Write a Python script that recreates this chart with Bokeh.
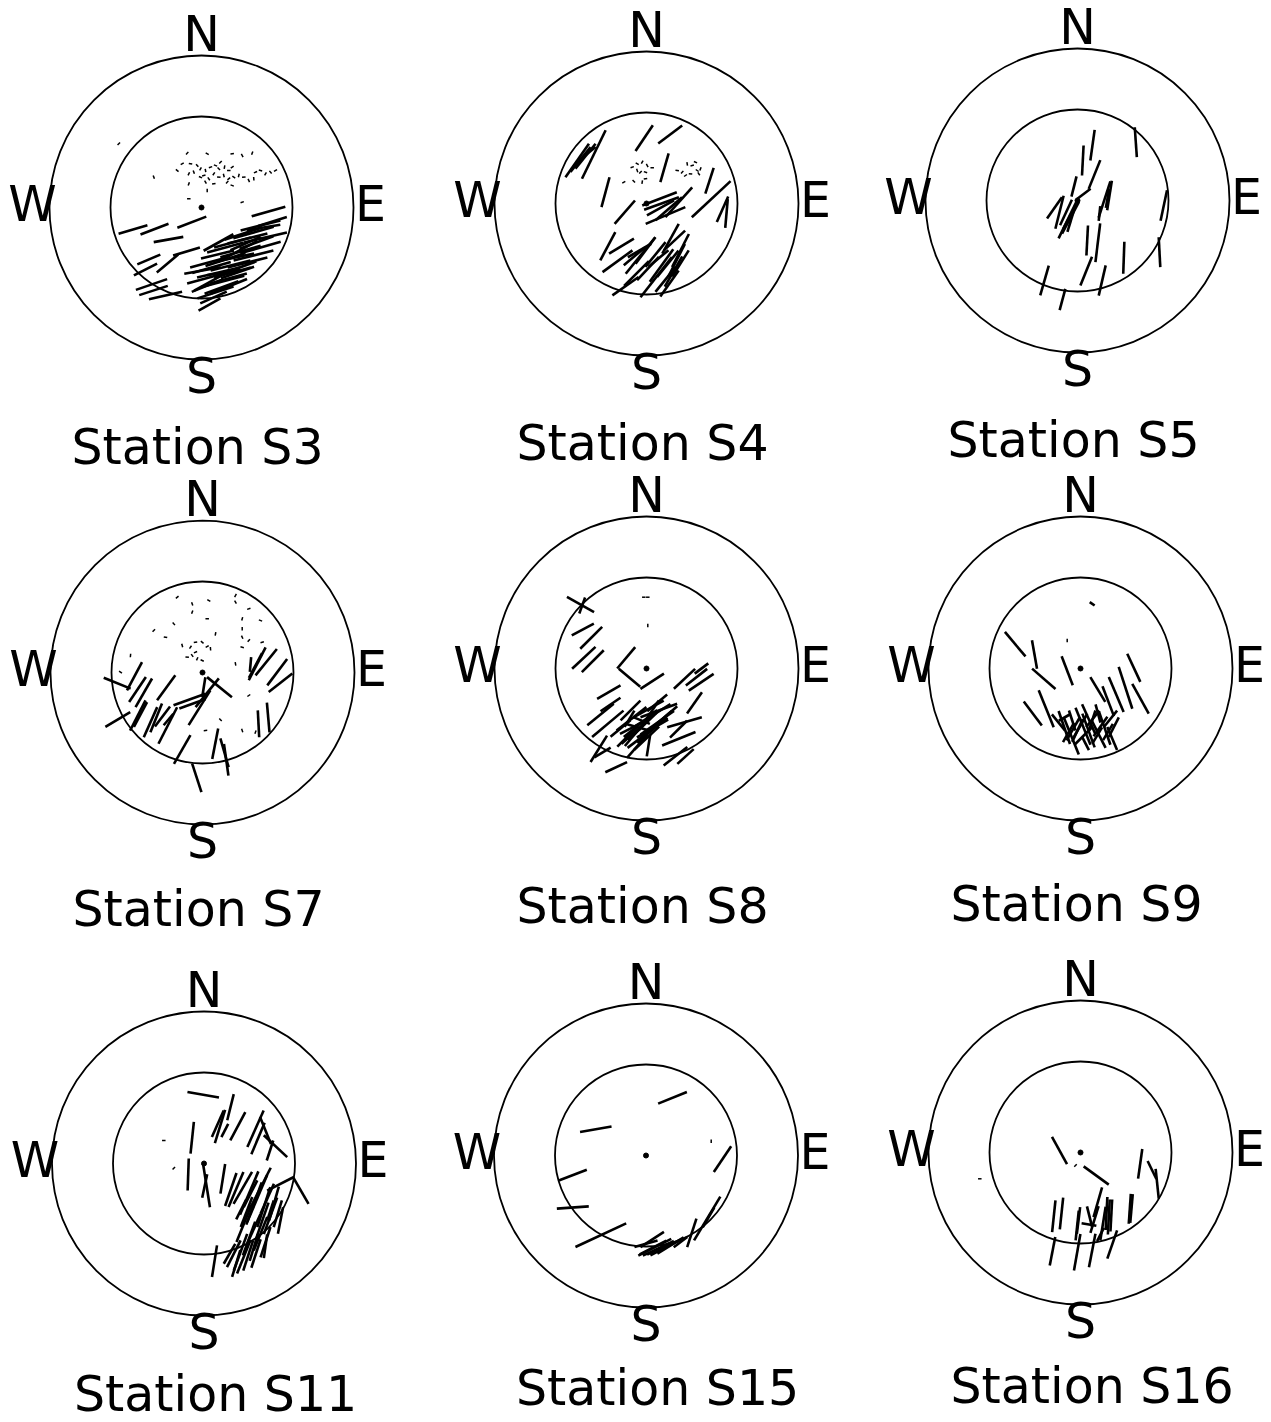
import numpy as np
from bokeh.plotting import figure
from bokeh.models import Range1d
from bokeh.core.properties import value
from bokeh.embed import file_html
from bokeh.resources import INLINE

# Polar projections of shear-wave splitting measurements at each station.
# Each measurement: (east, north) position of the arrival in the projection,
# fast polarisation azimuth (deg from N) and delay (drawn as segment length).
# The inner circle is the shear-wave window, the outer circle the horizon.
R_WINDOW = 91
R_RING = 152
SPECK_LEN = 3.5

STATION_NAMES = ["S3", "S4", "S5", "S7", "S8", "S9", "S11", "S15", "S16"]

# (east, north, fast azimuth, delay)
S3_SPLIT = [
    (-68.5, -22, 74, 30), (-47, -21.7, 69, 30), (-9.7, -14.7, 69, 31), (-33, -32, 80, 30),
    (-52.7, -52, 67, 25), (-56, -62, 63, 26), (-50, -77, 71, 33), (-36, -88, 77, 34),
    (-34, -56, 50, 28), (-15, -44, 73, 28), (-48, -83, 72, 30), (8, -97, 61, 25),
    (67, -4, 74, 35), (71, -14, 73, 30), (59, -18, 76, 41), (52, -25, 74, 42),
    (46, -31, 76, 41), (64, -30, 77, 44), (31, -35, 75, 38), (24, -40, 75, 38),
    (39, -44, 74, 42), (52, -48, 76, 41), (16, -47, 76, 34), (7, -55, 75, 38),
    (29, -58, 76, 41), (46, -55, 76, 41), (1, -63, 80, 37), (17, -65, 77, 44),
    (31, -65, 75, 38), (4, -71, 75, 38), (21, -74, 75, 45), (27, -79, 68, 40),
    (14, -85, 72, 38), (12, -90, 66, 29), (59, -40, 74, 42), (17, -35, 61, 34),
    (36, -44, 62, 45), (11, -73, 61, 42), (22, -65, 81, 34), (27, -71, 75, 38),
    (36, -65, 71, 35), (62, -20, 81, 34), (44, -36, 66, 33),
    (10, -60, 74, 40), (24, -52, 72, 42), (38, -60, 70, 36), (20, -80, 70, 36),
    (34, -50, 78, 38), (42, -26, 72, 40), (55, -35, 70, 36), (6, -78, 68, 34),
]
S4_SPLIT = [
    (-69.3, 43, 35, 41), (-66, 44, 39, 32), (-61, 47.3, 39, 32), (-52.7, 49, 26, 54),
    (-59, 50, 51, 21), (-2.3, 65.3, 34, 31), (23.7, 69, 53, 30), (18, 35.7, 16, 30),
    (-41, 11.3, 15, 31), (-21.7, -8.7, 41, 31), (63, 22.7, 18, 27), (64.7, 4.3, 47, 53),
    (76, -5.7, 24, 28), (80, -10, 5, 29), (13, 4.7, 69, 37), (15, 0, 70, 37),
    (14, -4.3, 61, 31), (22.3, -5.3, 49, 35), (32.3, 1.3, 42, 40), (19, -12, 67, 43),
    (-38.7, -42.7, 28, 32), (-25, -42.7, 59, 29), (-29, -57.7, 54, 37), (-12, -52.7, 50, 28),
    (-6, -52, 39, 47), (-21, -82.7, 55, 32), (1.5, -65, 43, 32), (9.7, -73.7, 38, 51),
    (21.3, -60.3, 39, 34), (19, -76, 39, 32), (24, -35.3, 29, 34), (28, -37, 47, 29),
    (34, -47, 27, 37), (30, -57, 27, 37), (12, -55, 50, 26), (23, -80, 35, 32),
    (34, -60, 32, 31), (-1, -47, 37, 33), (9, -51, 39, 32), (-7, -47, 60, 27),
    (15, -62, 36, 40), (27, -68, 30, 35), (-10, -70, 45, 35),
]
S5_SPLIT = [
    (15, 55.3, 8, 31), (5.3, 40, 3, 30), (17, 26, 22, 31), (58.3, 58.3, 176, 30),
    (-3.5, 14, 14, 21), (6.3, 6.7, 53, 17), (-23, -7.3, 35, 26), (-18, -11.7, 14, 34),
    (-9.7, -19, 26, 42), (-7, -17.3, 28, 36), (-7.7, -16, 28, 28), (-11.5, -12, 25, 28),
    (-6, -18, 17, 28), (32, 5, 9, 30), (30, 2, 10, 19), (22, -13, 6, 15),
    (27, 1, 18, 38), (9.7, -40, 3, 30), (20.3, -42.3, 7, 39), (8.7, -70.7, 22, 31),
    (24.7, -80, 13, 31), (46.3, -57.3, 2, 32), (82, -51.7, 177, 30), (86.3, -5, 12, 31),
    (-33, -80, 16, 31), (-15, -99, 15, 22),
]
S7_SPLIT = [
    (-85.3, -10.7, 112, 29), (-68, -3.7, 28, 32), (-65, -17, 34, 30), (-58.7, -20.3, 30, 33),
    (-64.7, -43, 27, 34), (-62, -42, 28, 28), (-84.7, -47, 59, 29), (-52, -49.7, 24, 33),
    (-36.3, -15.3, 36, 31), (-46.3, -45.3, 22, 31), (-34.7, -53, 27, 41), (-34, -47, 40, 15),
    (-13, -27, 70, 34), (-10, -31.3, 70, 28), (-3, -35.3, 32, 41), (1.3, -14.7, 9, 20),
    (17, -14.7, 129, 32), (4.7, -20.3, 39, 37), (-20.3, -77, 30, 33), (12.7, -71.3, 11, 31),
    (22, -80.3, 164, 30), (23.7, -87.3, 172, 32), (-5.7, -105.3, 162, 30), (56, -51.3, 177, 27),
    (65.7, -45, 175, 30), (54.7, 8.7, 27, 37), (63.7, 10.3, 39, 34), (74.7, 0.3, 37, 33),
    (53, 7, 28, 28), (78, -10.3, 52, 30), (48, 8, 5, 15), (-40, -44, 37, 25),
]
S8_SPLIT = [
    (-66, 64, 119, 31), (-64.3, 63, 20, 17), (-63.7, 39, 62, 25), (-55.3, 30.7, 45, 31),
    (-62.7, 10.7, 47, 32), (-53.7, 7.3, 45, 31), (-20.3, 10.7, 40, 28), (-17, -9.3, 130, 28),
    (5.7, -12.7, 57, 28), (38, -10.3, 47, 29), (50, -8.7, 52, 27), (54.7, -13.7, 56, 30),
    (55, 0, 53, 17), (-37.7, -23.7, 60, 27), (-46, -46, 51, 34), (-36, -36, 56, 24),
    (-38.7, -55.3, 50, 41), (-16, -42, 45, 28), (-15, -50.3, 52, 38), (-6, -55, 51, 43),
    (-10, -62, 48, 40), (1, -64.3, 53, 50), (5.7, -47, 58, 43), (2.3, -40.3, 61, 34),
    (10.7, -54.3, 55, 41), (-9.3, -77.7, 41, 31), (0.2, -69.7, 47, 34), (2, -77, 9, 22),
    (-16.7, -60.3, 63, 22), (10.7, -34.3, 50, 26), (12.3, -42, 70, 39), (4, -63, 49, 35),
    (-17, -50.3, 31, 19), (-26, -60, 50, 26), (-19.3, -68.3, 45, 28), (19, -48, 49, 31),
    (2.3, -47, 34, 36), (-8, -59, 106, 24), (-5, -52, 112, 18), (38, -53.7, 74, 36),
    (48, -34.3, 35, 26), (32, -60.7, 45, 24), (32.3, -70.3, 68, 36), (29, -87.7, 52, 30),
    (39, -88, 48, 22), (-30.3, -98.7, 65, 24), (-44, -84, 59, 19), (-47.7, -80.3, 32, 31),
    (-4, -58, 46, 40), (6, -60, 60, 36), (-12, -66, 40, 30), (14, -52, 50, 30),
]
S9_SPLIT = [
    (-65.3, 24.3, 140, 32), (-46, 14, 170, 29), (-36.7, -10.3, 131, 31), (-13.3, -2.3, 159, 31),
    (-47.7, -45, 143, 30), (-34.3, -40.3, 158, 40), (17.3, -21, 149, 29), (35.7, -26, 157, 38),
    (45, -19.3, 162, 44), (53.3, 0.7, 155, 31), (60, -30.3, 151, 34), (27.7, -32.7, 159, 32),
    (-16.2, -59, 161, 35), (-9.2, -67.5, 158, 40), (-8.3, -52, 162, 21), (2.5, -57.8, 158, 40),
    (8.3, -50.8, 156, 33), (12.3, -50.3, 39, 21), (18.3, -66, 153, 30), (24.2, -59.7, 161, 35),
    (30, -50.3, 39, 21), (33.3, -58.7, 27, 22), (27.5, -63.5, 31, 19), (-7.2, -60.2, 30, 27),
    (0, -57, 30, 27), (11.7, -52, 18, 21), (3.3, -67, 45, 24), (16.7, -67, 31, 19),
    (-16, -49, 60, 13), (5, -75, 153, 15), (31.7, -70, 157, 25), (-22, -54, 141, 21),
    (17.5, -45, 165, 19), (11.7, 64.7, 125, 6),
    (-12, -64, 30, 22), (20, -58, 35, 24), (8, -62, 160, 36), (-3, -62, 25, 25),
]
S11_SPLIT = [
    (-0.8, 68.7, 100, 32), (26.5, 56.3, 14, 27), (13.8, 39.7, 24, 29), (16, 37, 17, 35),
    (20.8, 33, 27, 15), (33.8, 37.3, 28, 32), (-11.8, 25.7, 6, 32), (51.5, 34.7, 24, 40),
    (54, 25, 23, 34), (71.5, 17.3, 133, 32), (66, 13, 18, 21), (61.5, 33, 158, 29),
    (-15.8, -11, 2, 32), (2.5, -22, 171, 44), (0.7, -22.5, 12, 24), (18.8, -15.3, 9, 30),
    (26.8, -26, 19, 35), (32, -26, 23, 38), (38.8, -24.3, 30, 37), (45.2, -29.5, 23, 47),
    (53.2, -35, 23, 51), (56.5, -24.3, 27, 45), (46.5, -30.3, 27, 30), (59.8, -43.7, 18, 42),
    (63.2, -35.3, 24, 33), (66.5, -52.3, 20, 39), (66.5, -47, 18, 21), (73.8, -50.3, 17, 28),
    (76.5, -57, 11, 27), (42.5, -48.5, 21, 32), (37.2, -46, 27, 22), (49.8, -65.5, 24, 33),
    (56.5, -70.3, 22, 36), (61.5, -78.7, 18, 32), (36.5, -88.7, 20, 39), (39.8, -93.3, 22, 36),
    (44.2, -92, 18, 32), (29.8, -90.3, 27, 30), (49.8, -84, 17, 28), (61.5, -82.7, 8, 24),
    (10.5, -97.7, 9, 32), (32.2, -100, 17, 28), (25.5, -90.3, 30, 23), (76.5, -20.3, 63, 30),
    (96.8, -27, 150, 31),
    (50, -40, 20, 45), (58, -58, 19, 40), (45, -75, 20, 36), (52, -90, 18, 30),
    (70, -40, 16, 35), (40, -60, 22, 40),
]
S15_SPLIT = [
    (26.5, 57.7, 68, 31), (-50.2, 26.3, 80, 32), (-73.2, -19.7, 69, 30), (-73.2, -52, 86, 32),
    (76.5, -3.7, 34, 31), (-45.2, -79.7, 65, 56), (45.8, -77.3, 18, 30), (61.2, -63, 31, 51),
    (62.5, -62, 30, 23), (6.2, -84, 57, 28), (8.8, -91.7, 63, 37), (7, -92, 63, 30),
    (14.5, -92.3, 63, 30), (10, -94, 65, 29), (24.5, -90, 58, 31), (0, -88.3, 74, 24),
    (19.5, -92, 63, 34), (34.5, -86.7, 53, 17),
]
S16_SPLIT = [
    (-21, 2, 151, 31), (15.7, -23, 126, 31), (59.7, -11.3, 8, 30), (71.5, -17.5, 154, 20),
    (76.7, -31.3, 174, 30), (49.3, -56.3, 4, 30), (51, -56, 5, 29), (-26.7, -63.7, 6, 32),
    (-19, -61, 6, 32), (-28, -98.7, 11, 29), (-3.3, -99.7, 10, 37), (-3.3, -73, 6, 30),
    (-2, -68, 7, 27), (9, -64, 166, 21), (11.7, -98, 11, 34), (14, -67, 17, 28),
    (17.3, -49.7, 16, 31), (22.5, -71, 9, 34), (26, -61, 3, 33), (28.3, -64.5, 3, 35),
    (30.8, -63, 3, 32), (31.7, -92, 19, 30), (8.5, -72, 100, 15), (20, -82, 27, 15),
]

# Unsplit / null arrivals: (east, north, azimuth of the tick)
S3_NULLS = [
    (-14.3, 54.3, 40), (5.7, 53.7, 120), (30.7, 53.7, 80), (40.7, 52, 150), (50.7, 54.3, 20),
    (-19.3, 43.7, 60), (-11, 43.7, 100), (-4.3, 42, 140), (-1, 38.7, 30), (4, 37, 170),
    (9, 40.3, 70), (14, 42, 110), (19, 45.3, 45), (17.3, 38.7, 135), (23, 40.3, 10),
    (27.3, 37, 90), (30.7, 40.3, 55), (-7.7, 35.3, 160), (-12.7, 33.7, 25), (-1, 30.3, 115),
    (2.3, 32, 75), (7.3, 28.7, 145), (12.3, 33.7, 35), (17.3, 30.3, 95), (22.3, 32, 165),
    (27.3, 28.7, 50), (32.3, 30.3, 125), (37.3, 32, 15), (42.3, 30.3, 85), (47.3, 27, 155),
    (54, 35.3, 65), (59, 37, 105), (64, 33.7, 30), (69, 35.3, 140), (74, 37, 60),
    (52.3, 28.7, 175), (25.7, 25.3, 40), (30.7, 22, 110), (12.3, 23.7, 80), (4, 25.3, 150),
    (-12.7, 23.7, 20), (-12.7, 8.7, 90), (5.7, 17, 0), (-24.3, 37, 130), (40.7, 5.3, 70),
    (-47.7, 30.3, 160), (-82.7, 63.7, 45),
]
S4_NULLS = [
    (-14.3, 36.3, 70), (-9.3, 39.7, 120), (-4.3, 41.3, 30), (0.7, 38, 150), (5.7, 35.7, 90),
    (-6, 31.3, 45), (-1, 31.3, 110), (-9.3, 33, 160), (-4.3, 21.3, 10), (-1, 24.7, 80),
    (-12.7, 22.3, 135), (-22.7, 21.3, 60), (30.7, 33, 100), (35.7, 31.3, 40), (40.7, 39.7, 170),
    (45.7, 38, 75), (50.7, 33, 125), (54, 34.7, 20), (44, 29.7, 95), (52.3, 29.7, 145),
    (39, 28, 55), (49, 41.3, 115),
]
S5_NULLS = []
S7_NULLS = [
    (-25.3, 75.3, 50), (-10.3, 68.7, 160), (-10.3, 60.3, 20), (6.3, 72, 120), (33, 77, 30),
    (33, 70.3, 150), (46.3, 63.7, 70), (58, 52, 110), (39.7, 53.7, 15), (4.7, 53.7, 90),
    (-28.7, 48.7, 140), (-48.7, 42, 45), (-37, 35.3, 100), (-20.3, 27, 165), (-12, 25.3, 35),
    (-7, 30.3, 80), (-0.3, 30.3, 130), (4.7, 26, 60), (8, 23.7, 175), (13, 38.7, 10),
    (-15.3, 15.3, 95), (-10.3, 17, 145), (-5.3, 13.7, 25), (-0.3, 12, 115), (-7, 20.3, 65),
    (39.7, 35.3, 155), (46.3, 32, 40), (39.7, 25.3, 105), (33, 8.7, 170), (59.7, 30.3, 75),
    (-72, 17, 5), (-82, 0.3, 125), (46.3, -23, 55), (39.7, -58, 160), (53, -59.7, 20),
    (18, -47.3, 135), (3, -58, 85), (39.7, 43.7, 0),
]
S8_NULLS = [(-2.7, 71.3, 90), (1.3, 71.3, 90), (1.3, 43, 0)]
S9_NULLS = [(-13.3, 28, 0)]
S11_NULLS = [(-40.2, 23, 90), (-30.2, -4.7, 45)]
S15_NULLS = [(65.2, 14.3, 0)]
S16_NULLS = [(-100.7, -26.3, 90), (-5, -13, 45)]

# Page placement of each station's projection centre (px from top-left)
CENTER_X = [201, 646, 1077, 202, 646, 1080, 203.5, 645.5, 1080]
CENTER_Y = [207, 203, 200, 672, 668, 668, 1163, 1155, 1152]
TITLE_DROP = [240, 240, 240, 237, 238, 236, 231, 233, 234]
PAGE_W, PAGE_H = 1271, 1422

SPLITS = [S3_SPLIT, S4_SPLIT, S5_SPLIT, S7_SPLIT, S8_SPLIT, S9_SPLIT,
          S11_SPLIT, S15_SPLIT, S16_SPLIT]
NULLS = [S3_NULLS, S4_NULLS, S5_NULLS, S7_NULLS, S8_NULLS, S9_NULLS,
         S11_NULLS, S15_NULLS, S16_NULLS]

FONT = value("DejaVu Sans")
FONT_SIZE = "49px"


def sticks(records, ox, oy, fixed_len=None):
    if not records:
        return dict(x0=[], y0=[], x1=[], y1=[])
    arr = np.array(records, dtype=float)
    e, n, az = arr[:, 0] + ox, arr[:, 1] + oy, np.radians(arr[:, 2])
    half = (arr[:, 3] if fixed_len is None else np.full(len(arr), fixed_len)) / 2.0
    dx, dy = half * np.sin(az), half * np.cos(az)
    return dict(x0=e - dx, y0=n - dy, x1=e + dx, y1=n + dy)


p = figure(width=PAGE_W, height=PAGE_H,
           x_range=Range1d(0, PAGE_W), y_range=Range1d(-PAGE_H, 0),
           output_backend="svg", toolbar_location=None,
           x_axis_type=None, y_axis_type=None,
           min_border=0, outline_line_color=None,
           background_fill_color="white", border_fill_color="white")
p.grid.visible = False

text_style = dict(text_font=FONT, text_font_size=FONT_SIZE, text_color="black",
                  text_baseline="alphabetic")

for i, name in enumerate(STATION_NAMES):
    ox, oy = CENTER_X[i], -CENTER_Y[i]

    p.circle(x=[ox, ox], y=[oy, oy], radius=[R_RING, R_WINDOW],
             fill_color=None, line_color="black", line_width=1.8)
    p.segment(line_color="black", line_width=2.6, **sticks(SPLITS[i], ox, oy))
    p.segment(line_color="black", line_width=1.5,
              **sticks(NULLS[i], ox, oy, fixed_len=SPECK_LEN))
    p.scatter(x=[ox], y=[oy], size=5, color="black")

    p.text(x=[ox, ox, ox - 169, ox + 169], y=[oy + 173, oy - 169, oy + 3, oy + 3],
           text=["N", "S", "W", "E"], text_align="center", **text_style)
    p.text(x=[ox - 130], y=[oy - TITLE_DROP[i]], text=["Station " + name],
           text_align="left", **text_style)

with open("out.html", "w") as f:
    f.write(file_html(p, INLINE, title="Shear-wave splitting by station"))
